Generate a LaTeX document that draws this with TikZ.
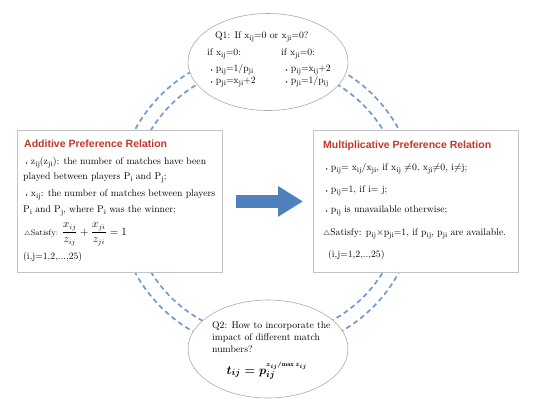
\documentclass[tikz,border=0pt]{standalone}
\usepackage{amsmath}
\usepackage{fontspec}
\newfontfamily\titlefont{Liberation Sans}
\usetikzlibrary{shapes.geometric,arrows.meta}
\definecolor{dashblue}{RGB}{118,154,206}
\definecolor{arrowblue}{RGB}{79,129,189}
\definecolor{titlered}{RGB}{192,57,43}
\definecolor{boxgray}{RGB}{196,196,196}
\definecolor{ellgray}{RGB}{170,170,170}
\newcommand{\mysub}[2]{#1\raisebox{-0.5ex}{\fontsize{7.6}{8}\selectfont #2}}
\newcommand{\bul}{{\fontsize{5}{5}\selectfont\textbullet}}
\newcommand{\tri}{\ensuremath{\scriptstyle\triangle}}
\begin{document}
\begin{tikzpicture}[x=1pt,y=-1pt,
  ring/.style={draw=dashblue, line width=1.7pt, dash pattern=on 5pt off 3.5pt},
  panel/.style={draw=boxgray, fill=white, line width=0.8pt, anchor=north west, inner sep=0pt},
  bubble/.style={draw=ellgray, fill=white, line width=0.6pt, ellipse, inner sep=0pt},
  txt/.style={anchor=base west, inner sep=0pt, font=\fontsize{9.7}{11}\selectfont},
  small/.style={anchor=base west, inner sep=0pt, font=\fontsize{8}{10}\selectfont},
  ttl/.style={anchor=base west, inner sep=0pt, font=\titlefont\bfseries\fontsize{10.5}{12}\selectfont, text=titlered}]
\useasboundingbox (0,0) rectangle (536,408);
\fill[white] (0,0) rectangle (536,408);
% dashed rings
\coordinate (ringc) at (267,201);
\draw[ring] (ringc) circle[radius=150pt];
\draw[ring] (ringc) circle[radius=136pt];
% ellipses
\node[bubble, minimum width=160pt, minimum height=97pt] (q1) at (268,62) {};
\node[bubble, minimum width=160pt, minimum height=98pt] (q2) at (268,349) {};
% boxes
\node[panel, minimum width=205pt, minimum height=142pt] (addbox) at (17,130) {};
\node[panel, minimum width=205pt, minimum height=142pt] (mulbox) at (313,130) {};
% arrow
\draw[arrowblue, line width=13pt, -{Triangle[length=25pt,width=29pt]}, shorten <=13pt, shorten >=10pt] (addbox.east) -- (mulbox.west);
% Q1 text
\node[txt] (q1a) at (215,38) {Q1: If \mysub{x}{ij}=0 or \mysub{x}{ji}=0?};
\node[txt] (q1b) at (207,55) {if \mysub{x}{ij}=0:};
\node[txt] (q1c) at (281,55) {if \mysub{x}{ji}=0:};
\node[txt] (q1d) at (209,71) {\bul\,\mysub{p}{ij}=1/\mysub{p}{ji}};
\node[txt] (q1e) at (209,83) {\bul\,\mysub{p}{ji}=\mysub{x}{ji}+2};
\node[txt] (q1f) at (284,71) {\bul\,\mysub{p}{ij}=\mysub{x}{ij}+2};
\node[txt] (q1g) at (284,83) {\bul\,\mysub{p}{ji}=1/\mysub{p}{ij}};
% Q2 text
\node[txt] (q2a) at (212,328) {Q2: How to incorporate the};
\node[txt] (q2b) at (212,340) {impact of different match};
\node[txt] (q2c) at (212,352) {numbers?};
\node[anchor=base, inner sep=0pt, font=\fontsize{13}{15}\selectfont] (q2d) at (267,374) {$\boldsymbol{t_{ij}=p_{ij}^{\scriptscriptstyle z_{ij}/\!\max z_{ij}}}$};
% additive box text
\node[ttl] (addt) at (24,147) {Additive Preference Relation};
\node[txt] (add1) at (24,164) {\bul\,\mysub{z}{ij}(\mysub{z}{ji}): the number of matches have been};
\node[txt] (add2) at (23,179) {played between players \mysub{P}{i} and \mysub{P}{j};};
\node[txt] (add3) at (24,196) {\bul\,\mysub{x}{ij}: the number of matches between players};
\node[txt] (add4) at (23,212) {\mysub{P}{i} and \mysub{P}{j}, where \mysub{P}{i} was the winner;};
\node[small] (add5) at (24,235) {\tri Satisfy: {\fontsize{10.5}{12}\selectfont$\displaystyle\frac{x_{ij}}{z_{ij}}+\frac{x_{ji}}{z_{ji}}=1$}};
\node[txt] (add6) at (23,259) {(i,j=1,2,...,25)};
% multiplicative box text
\node[ttl] (mult) at (323,148) {Multiplicative Preference Relation};
\node[txt] (mul1) at (324,170) {\bul\,\mysub{p}{ij}= \mysub{x}{ij}/\mysub{x}{ji}, if \mysub{x}{ij} $\neq$0, \mysub{x}{ji}$\neq$0, i$\neq$j;};
\node[txt] (mul2) at (324,192) {\bul\,\mysub{p}{ij}=1, if i= j;};
\node[txt] (mul3) at (324,212) {\bul\,\mysub{p}{ij} is unavailable otherwise;};
\node[txt] (mul4) at (323,235) {\tri Satisfy: \mysub{p}{ij}$\times$\mysub{p}{ji}=1, if \mysub{p}{ij}, \mysub{p}{ji} are available.};
\node[txt] (mul5) at (328,257) {(i,j=1,2,..,25)};
\end{tikzpicture}
\end{document}
